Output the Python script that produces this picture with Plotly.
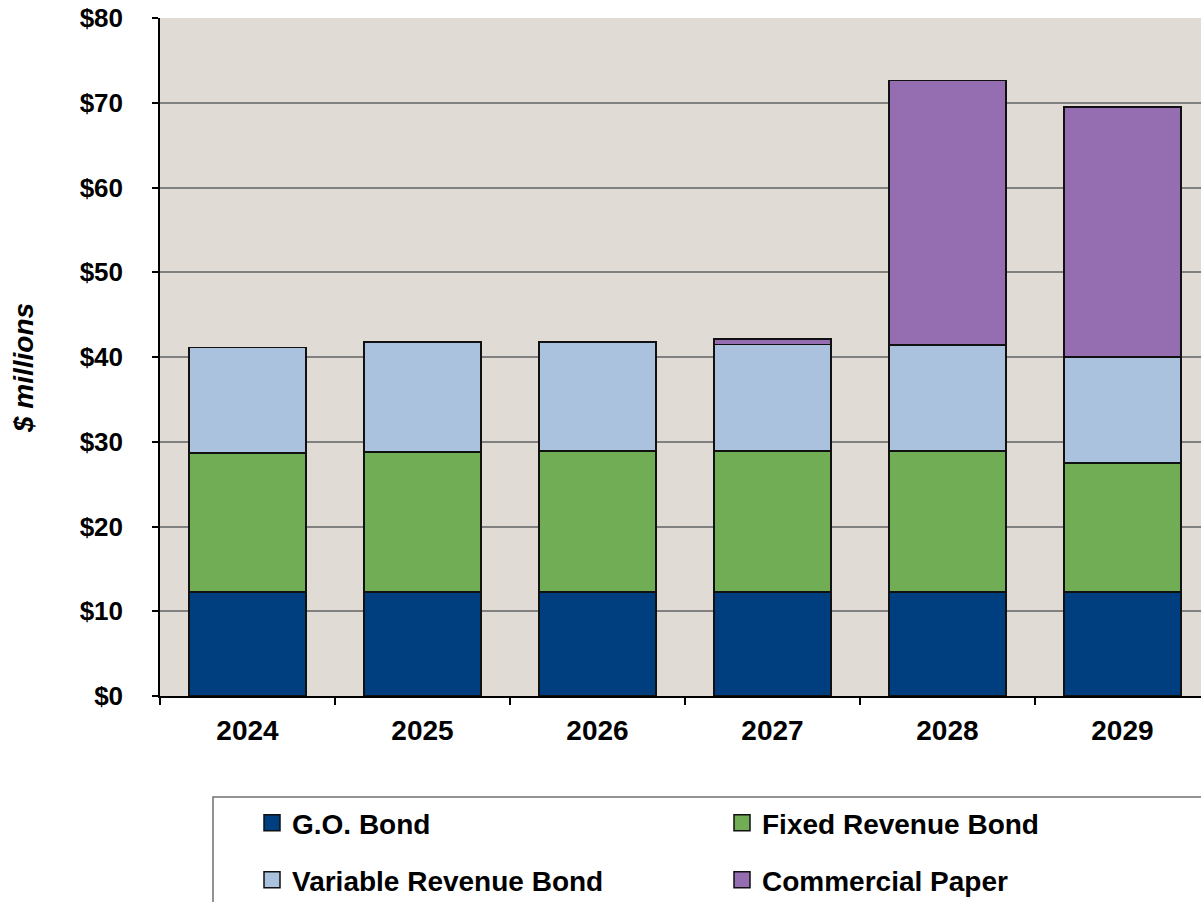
import plotly.graph_objects as go

# Debt issuance by fiscal year, $ millions
years = ["2024", "2025", "2026", "2027", "2028", "2029"]
go_bond = [12.3, 12.3, 12.3, 12.3, 12.3, 12.3]
fixed_revenue = [16.4, 16.5, 16.6, 16.6, 16.6, 15.2]
variable_revenue = [12.4, 13.0, 12.9, 12.6, 12.5, 12.5]
commercial_paper = [0.0, 0.0, 0.0, 0.6, 31.2, 29.5]

series = [
    ("G.O. Bond", go_bond, "#003F7F", "legend"),
    ("Fixed Revenue Bond", fixed_revenue, "#70AD55", "legend"),
    ("Variable Revenue Bond", variable_revenue, "#ABC2DF", "legend2"),
    ("Commercial Paper", commercial_paper, "#946EB0", "legend2"),
]

FONT = "Liberation Sans, Arial, sans-serif"

fig = go.Figure()
for name, vals, color, leg in series:
    fig.add_trace(go.Bar(
        x=years, y=vals, name=name,
        marker=dict(color=color, line=dict(color="#111111", width=1.5)),
        width=0.67, showlegend=False,
    ))
    # square swatch for the legend entry
    fig.add_trace(go.Scatter(
        x=[None], y=[None], mode="markers", name=name, legend=leg,
        marker=dict(symbol="square", size=16, color=color,
                    line=dict(color="#111111", width=1.5)),
    ))

W, H = 1201, 902
ML, MR, MT, MB = 160, 0, 18, 206
pw, ph = W - ML - MR, H - MT - MB

def px_x(x):
    return (x - ML) / pw

def px_y(y):
    return (H - MB - y) / ph

legend_font = dict(family=FONT, size=28, color="#000000", weight="bold")
common_legend = dict(
    orientation="h", xanchor="left", yanchor="middle",
    traceorder="normal",
    entrywidth=425, entrywidthmode="pixels",
    font=legend_font, bgcolor="rgba(0,0,0,0)", borderwidth=0,
    itemclick=False, itemdoubleclick=False,
)

fig.update_layout(
    width=W, height=H,
    margin=dict(l=ML, r=MR, t=MT, b=MB, autoexpand=False),
    barmode="stack",
    paper_bgcolor="#FFFFFF",
    plot_bgcolor="#E0DCD5",
    font=dict(family=FONT, color="#000000"),
    legend=dict(x=px_x(252), y=px_y(823), **common_legend),
    legend2=dict(x=px_x(252), y=px_y(880), **common_legend),
    shapes=[dict(
        type="rect", xref="paper", yref="paper",
        x0=px_x(213), x1=px_x(1230), y0=px_y(797), y1=px_y(930),
        line=dict(color="#707070", width=1.5), fillcolor="#FFFFFF",
        layer="below",
    )],
    annotations=[dict(
        text="<b><i>$ millions</i></b>", xref="paper", yref="paper",
        x=px_x(23), y=px_y(368), xanchor="center", yanchor="middle",
        textangle=-90, showarrow=False,
        font=dict(family=FONT, size=28, color="#000000"),
    )],
    xaxis=dict(
        type="category", range=[-0.5, 5.449],
        showline=True, linecolor="#000000", linewidth=1.5,
        ticks="outside", tickson="boundaries", ticklen=7,
        tickcolor="#000000", tickwidth=1.5,
        tickfont=dict(family=FONT, size=28, color="#000000", weight="bold"),
        ticklabelstandoff=9,
        showgrid=False, fixedrange=True,
    ),
    yaxis=dict(
        range=[0, 80], dtick=10, tickprefix="$",
        showline=True, linecolor="#000000", linewidth=1.5,
        ticks="outside", ticklen=6, tickcolor="#000000", tickwidth=1.5,
        tickfont=dict(family=FONT, size=26, color="#000000", weight="bold"),
        ticklabelstandoff=24,
        showgrid=True, gridcolor="#808080", gridwidth=1.5,
        zeroline=False, fixedrange=True,
        automargin=False,
    ),
)

fig.write_html("out.html")
